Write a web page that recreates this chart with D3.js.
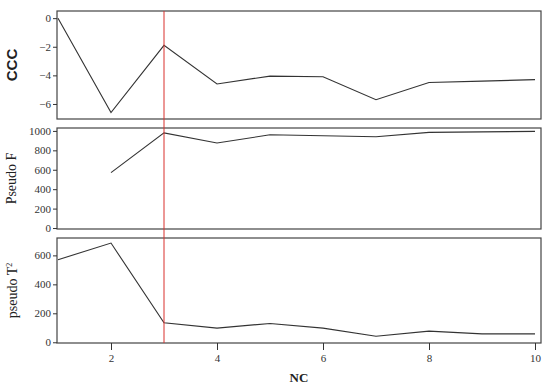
<!DOCTYPE html>
<html>
<head>
<meta charset="utf-8">
<script src="https://cdn.jsdelivr.net/npm/d3@7"></script>
<style>
  body { margin: 0; background: #fff; }
  svg { display: block; }
</style>
</head>
<body>
<script>
var width = 550;
var height = 390;

// number of clusters
var nc = [1, 2, 3, 4, 5, 6, 7, 8, 9, 10];
var ccc = [0, -6.6, -1.9, -4.6, -4.05, -4.1, -5.7, -4.5, -4.4, -4.3];
var pseudoF = [null, 570, 980, 875, 960, 950, 940, 985, 990, 995];
var pseudoT2 = [570, 685, 135, 98, 130, 98, 42, 77, 58, 58];
var cccTicks = [0, -2, -4, -6];
var fTicks = [0, 200, 400, 600, 800, 1000];
var t2Ticks = [0, 200, 400, 600];
var xTicks = [2, 4, 6, 8, 10];
var chosen = 3;

var left = 57, right = 541;
var serif = "Liberation Serif, DejaVu Serif, serif";

var panels = [
  { values: ccc, ticks: cccTicks, domain: [-7.05, 0.5], top: 11, bottom: 119, label: "CCC", lx: 17, sans: true },
  { values: pseudoF, ticks: fTicks, domain: [-10, 1030], top: 128, bottom: 229, label: "Pseudo F", lx: 16 },
  { values: pseudoT2, ticks: t2Ticks, domain: [-5, 720], top: 238, bottom: 343, label: "pseudo T", lx: 17, sup: true }
];

var svg = d3.select("body").append("svg")
  .attr("width", width)
  .attr("height", height);

var x = d3.scaleLinear().domain([1, 10]).range([58, 535]);

function styleAxis(g) {
  g.select(".domain").remove();
  g.selectAll(".tick line").style("stroke", "#333");
  g.selectAll(".tick text")
    .style("font-family", serif)
    .style("font-size", "11px")
    .style("fill", "#333");
}

panels.forEach(function(p) {
  var y = d3.scaleLinear().domain(p.domain).range([p.bottom, p.top]);

  svg.append("rect")
    .attr("x", left)
    .attr("y", p.top)
    .attr("width", right - left)
    .attr("height", p.bottom - p.top)
    .style("fill", "none")
    .style("stroke", "#444")
    .style("stroke-width", 1.2);

  svg.append("g")
    .attr("transform", "translate(" + left + ",0)")
    .call(d3.axisLeft(y).tickValues(p.ticks).tickFormat(d3.format("d")).tickSize(4).tickPadding(2))
    .call(styleAxis);

  var pts = nc.map(function(d, i) { return { x: d, v: p.values[i] }; });
  var line = d3.line()
    .defined(function(d) { return d.v != null; })
    .x(function(d) { return x(d.x); })
    .y(function(d) { return y(d.v); });

  svg.append("path")
    .datum(pts)
    .attr("d", line)
    .style("fill", "none")
    .style("stroke", "#333")
    .style("stroke-width", 1.1);

  var t = svg.append("text")
    .attr("transform", "translate(" + p.lx + "," + ((p.top + p.bottom) / 2) + ") rotate(-90)")
    .attr("text-anchor", "middle")
    .style("font-family", p.sans ? "Liberation Sans, Arial, sans-serif" : serif)
    .style("font-size", p.sans ? "15px" : "14px")
    .style("font-weight", p.sans ? "bold" : "normal")
    .style("fill", "#222")
    .text(p.label);
  if (p.sup) {
    t.append("tspan").attr("dy", -5).style("font-size", "8px").text("2");
  }
});

// red line at the chosen number of clusters
svg.append("line")
  .attr("x1", x(chosen))
  .attr("x2", x(chosen))
  .attr("y1", panels[0].top)
  .attr("y2", panels[2].bottom)
  .style("stroke", "#d9302c")
  .style("stroke-width", 1);

svg.append("g")
  .attr("transform", "translate(0," + panels[2].bottom + ")")
  .call(d3.axisBottom(x).tickValues(xTicks).tickSize(7).tickPadding(4))
  .call(styleAxis);

svg.append("text")
  .attr("x", (left + right) / 2)
  .attr("y", 382)
  .attr("text-anchor", "middle")
  .style("font-family", serif)
  .style("font-weight", "bold")
  .style("font-size", "13px")
  .style("fill", "#222")
  .text("NC");
</script>
</body>
</html>
